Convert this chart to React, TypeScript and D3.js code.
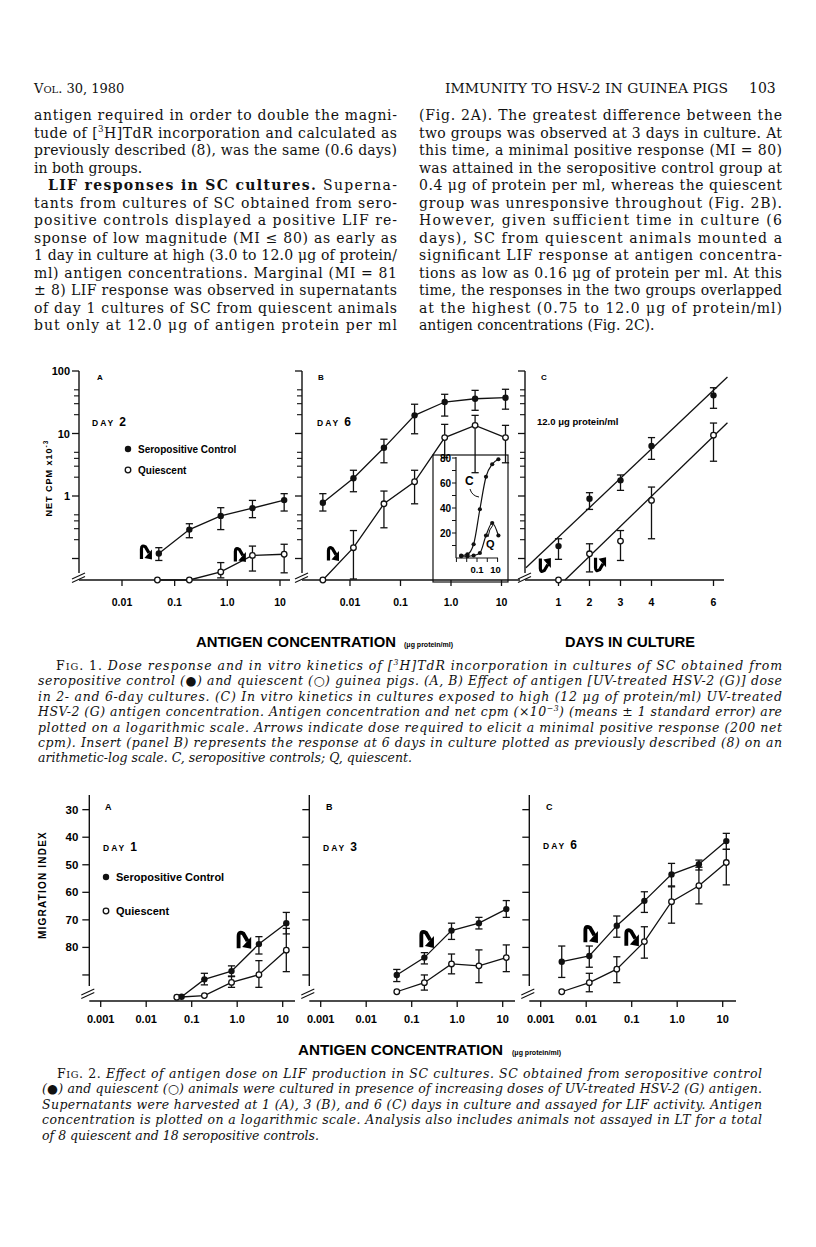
import React from "react";
import * as d3 from "d3";

const SERIF = "'DejaVu Serif', 'Liberation Serif', serif";
const SANS = "'Liberation Sans', Arial, sans-serif";

// ---------------- DATA ----------------
// antigen concentrations (µg protein/ml), 4-fold dilutions of 12.0
const conc7 = [0.0029, 0.0117, 0.047, 0.19, 0.75, 3, 12];
const conc5 = [0.047, 0.19, 0.75, 3, 12];

// Fig 1A (day 2), net cpm x10^-3
const f1aSeroX = [0.05, 0.19, 0.75, 3, 12];
const f1aSero = [0.12, 0.29, 0.48, 0.64, 0.86];
const f1aSeroLo = [0.093, 0.215, 0.29, 0.45, 0.575];
const f1aSeroHi = [0.149, 0.36, 0.65, 0.85, 1.09];
const f1aQui = [0.045, 0.045, 0.061, 0.112, 0.117];
const f1aQuiLo = [NaN, NaN, 0.049, 0.063, 0.059];
const f1aQuiHi = [NaN, NaN, 0.086, 0.158, 0.169];

// Fig 1B (day 6)
const f1bSero = [0.78, 1.92, 5.9, 19.5, 31.9, 36, 37.4];
const f1bSeroLo = [0.575, 1.17, 3.4, 9.9, 19, 23.5, 24.5];
const f1bSeroHi = [1.09, 2.58, 8.1, 29.4, 42.4, 49, 51];
const f1bQui = [0.045, 0.149, 0.75, 1.69, 8.6, 13.5, 8.6];
const f1bQuiLo = [NaN, 0.047, 0.31, 0.75, 4.1, 2.36, 3.4];
const f1bQuiHi = [NaN, 0.28, 1.2, 2.58, 14, 19.5, 13.5];

// Fig 1B insert (arithmetic-log)
const insetC = [2, 3, 11, 39, 65, 75, 79];
const insetQ = [1.5, 1.5, 2, 4, 18, 28, 18];

// Fig 1C (kinetics at 12 µg/ml)
const days = [1, 2, 3, 4, 6];
const f1cSero = [0.158, 0.905, 1.78, 6.3, 40.8];
const f1cSeroLo = [0.097, 0.61, 1.23, 3.86, 25.3];
const f1cSeroHi = [0.207, 1.13, 2.17, 8.6, 54];
const f1cQui = [0.036, 0.119, 0.19, 0.85, 9.4];
const f1cQuiLo = [NaN, 0.061, 0.093, 0.207, 3.6];
const f1cQuiHi = [NaN, 0.172, 0.28, 1.39, 14.7];
const f1cSeroFitDays = [-0.05, 6.45];
const f1cSeroFit = [0.071, 80];
const f1cQuiFitDays = [1.21, 6.45];
const f1cQuiFit = [0.036, 14.9];

// Fig 2 (migration index)
const f2aSeroX = [0.06, 0.19, 0.75, 3, 12];
const f2aSero = [97.9, 91.6, 88.6, 78.8, 71.2];
const f2aSeroLo = [NaN, 89.4, 86.7, 76.1, 67.3];
const f2aSeroHi = [NaN, 93.6, 90.4, 82.4, 75.1];
const f2aQui = [98.1, 97.5, 92.7, 89.9, 81.0];
const f2aQuiLo = [NaN, NaN, 90.6, 84.8, 73.1];
const f2aQuiHi = [NaN, NaN, 94.5, 94.5, 88.8];

const f2bSero = [90.0, 83.7, 73.9, 71.2, 66.1];
const f2bSeroLo = [88.0, 81.9, 71.2, 69.1, 63.0];
const f2bSeroHi = [92.4, 86.0, 77.1, 73.3, 69.1];
const f2bQui = [96.1, 92.8, 86.0, 86.7, 83.7];
const f2bQuiLo = [NaN, 90.0, 82.4, 80.9, 79.1];
const f2bQuiHi = [NaN, 95.5, 89.6, 92.8, 88.8];

const f2cSero = [85.2, 83.1, 72.1, 63.1, 53.5, 49.8, 41.4];
const f2cSeroLo = [79.5, 79.5, 68.6, 59.8, 49.5, 48.3, 38.6];
const f2cSeroHi = [90.9, 87.2, 76.3, 67.3, 57.7, 51.9, 44.4];
const f2cQui = [96.1, 92.8, 87.9, 77.9, 63.4, 57.6, 49.2];
const f2cQuiLo = [NaN, 89.4, 83.4, 72.5, 58.0, 50.9, 44.4];
const f2cQuiHi = [NaN, 96.1, 92.8, 83.9, 71.2, 64.2, 57.3];

// arrows (minimal positive response)
const f1aArrows = [[0.0285, 0.13], [1.73, 0.118]];
const f1bArrows = [[0.0046, 0.122]];
const f1cArrows = [[0.56, 0.076], [2.34, 0.078]];
const f2aArrows = [[1.41, 77]];
const f2bArrows = [[0.214, 76.7]];
const f2cArrows = [[0.0126, 74.9], [0.1, 76.1]];

// ticks
const f1XTicks = [0.01, 0.1, 1, 10];
const f1XLabels = ["0.01", "0.1", "1.0", "10"];
const f1YMajor = [0.1, 1, 10, 100];
const f1YMinor = [0.2, 0.3, 0.4, 0.5, 2, 3, 4, 5, 20, 30, 40, 50];
const f1YLabelVals = [1, 10, 100];
const f1YLabels = ["1", "10", "100"];
const dayTicks = [1, 2, 3, 4, 6];
const f2XTicks = [0.001, 0.01, 0.1, 1, 10];
const f2XLabels = ["0.001", "0.01", "0.1", "1.0", "10"];
const f2YTicks = [30, 40, 50, 60, 70, 80, 90];
const f2YLabels = ["30", "40", "50", "60", "70", "80"];
const insetYTicks = [10, 20, 30, 40, 50, 60, 70, 80];
const insetYLabels = [20, 40, 60, 80];
const insetXTicks = [0.001, 0.01, 0.1, 1, 10];

// ---------------- TEXT ----------------
const leftCol = [
  "antigen required in order to double the magni-",
  "tude of [|3|H]TdR incorporation and calculated as",
  "previously described (8), was the same (0.6 days)",
  "#in both groups.",
  "$",
  "tants from cultures of SC obtained from sero-",
  "positive controls displayed a positive LIF re-",
  "sponse of low magnitude (MI \u2264 80) as early as",
  "1 day in culture at high (3.0 to 12.0 \u03bcg of protein/",
  "ml) antigen concentrations. Marginal (MI = 81",
  "\u00b1 8) LIF response was observed in supernatants",
  "of day 1 cultures of SC from quiescent animals",
  "but only at 12.0 \u03bcg of antigen protein per ml",
];
const rightCol = [
  "(Fig. 2A). The greatest difference between the",
  "two groups was observed at 3 days in culture. At",
  "this time, a minimal positive response (MI = 80)",
  "was attained in the seropositive control group at",
  "0.4 \u03bcg of protein per ml, whereas the quiescent",
  "group was unresponsive throughout (Fig. 2B).",
  "However, given sufficient time in culture (6",
  "days), SC from quiescent animals mounted a",
  "significant LIF response at antigen concentra-",
  "tions as low as 0.16 \u03bcg of protein per ml. At this",
  "time, the responses in the two groups overlapped",
  "at the highest (0.75 to 12.0 \u03bcg of protein/ml)",
  "#antigen concentrations (Fig. 2C).",
];
const cap1 = [
  "Dose response and in vitro kinetics of [|3|H]TdR incorporation in cultures of SC obtained from",
  "seropositive control (\u25cf) and quiescent (\u25cb) guinea pigs. (A, B) Effect of antigen [UV-treated HSV-2 (G)] dose",
  "in 2- and 6-day cultures. (C) In vitro kinetics in cultures exposed to high (12 \u03bcg of protein/ml) UV-treated",
  "HSV-2 (G) antigen concentration. Antigen concentration and net cpm (\u00d710|\u22123|) (means \u00b1 1 standard error) are",
  "plotted on a logarithmic scale. Arrows indicate dose required to elicit a minimal positive response (200 net",
  "cpm). Insert (panel B) represents the response at 6 days in culture plotted as previously described (8) on an",
  "#arithmetic-log scale. C, seropositive controls; Q, quiescent.",
];
const cap2 = [
  "Effect of antigen dose on LIF production in SC cultures. SC obtained from seropositive control",
  "(\u25cf) and quiescent (\u25cb) animals were cultured in presence of increasing doses of UV-treated HSV-2 (G) antigen.",
  "Supernatants were harvested at 1 (A), 3 (B), and 6 (C) days in culture and assayed for LIF activity. Antigen",
  "concentration is plotted on a logarithmic scale. Analysis also includes animals not assayed in LT for a total",
  "#of 8 quiescent and 18 seropositive controls.",
];

// render text with |sup| segments
function withSup(s: string, fs: number) {
  const parts = s.split("|");
  return parts.map((p, i) =>
    i % 2 === 1 ? (
      <tspan key={i} fontSize={fs * 0.62} dy={-fs * 0.38}>{p}</tspan>
    ) : (
      <tspan key={i} dy={i > 0 ? fs * 0.38 : 0}>{p}</tspan>
    )
  );
}

function BodyLine({ x, y, w, s, fs }: any) {
  let justify = true;
  let str = s;
  if (str.startsWith("#")) { justify = false; str = str.slice(1); }
  return (
    <text x={x} y={y} fontFamily={SERIF} fontSize={fs} fill="#111"
      textLength={justify ? w : undefined} lengthAdjust="spacing">
      {withSup(str, fs)}
    </text>
  );
}

function CapLine({ x, y, w, s, fs, first, num }: any) {
  let justify = true;
  let str = s;
  if (str.startsWith("#")) { justify = false; str = str.slice(1); }
  return (
    <text x={x} y={y} fontFamily={SERIF} fontSize={fs} fill="#111"
      textLength={justify ? w : undefined} lengthAdjust="spacing">
      {first ? (
        <>
          <tspan>F</tspan>
          <tspan fontSize={fs * 0.78}>IG</tspan>
          <tspan>{`. ${num}. `}</tspan>
        </>
      ) : null}
      <tspan fontStyle="italic">{withSup(str, fs)}</tspan>
    </text>
  );
}

// ---------------- GRAPHIC HELPERS ----------------
function Series({ xs, ys, xv, yv, lo, hi, filled, noLine = false, r = 3.2, cap = 3.6 }: any) {
  const pts = xv.map((x: number, i: number) => [xs(x), ys(yv[i])] as [number, number]);
  const line = d3.line();
  return (
    <g>
      {noLine ? null : <path d={line(pts) || ""} fill="none" stroke="#111" strokeWidth={1.3} />}
      {lo.map((l: number, i: number) =>
        isFinite(l) ? (
          <g key={i} stroke="#111" strokeWidth={1.3}>
            <line x1={pts[i][0]} x2={pts[i][0]} y1={ys(l)} y2={ys(hi[i])} />
            <line x1={pts[i][0] - cap} x2={pts[i][0] + cap} y1={ys(l)} y2={ys(l)} />
            <line x1={pts[i][0] - cap} x2={pts[i][0] + cap} y1={ys(hi[i])} y2={ys(hi[i])} />
          </g>
        ) : null
      )}
      {pts.map((p: [number, number], i: number) =>
        filled ? (
          <circle key={i} cx={p[0]} cy={p[1]} r={r} fill="#111" />
        ) : (
          <circle key={i} cx={p[0]} cy={p[1]} r={r - 0.4} fill="#fff" stroke="#111" strokeWidth={1.3} />
        )
      )}
    </g>
  );
}

function Hook({ x, y, flip = false, s = 1 }: any) {
  return (
    <g transform={`translate(${x},${y}) scale(${s},${flip ? -s : s})`}>
      <path d="M-4.5,7.5 L-4.5,-2.5 Q-4.5,-7 -0.5,-4.5 L3,1.5" fill="none" stroke="#000" strokeWidth={3.2} />
      <path d="M6,8 L6,-2 L-1.5,6.5 Z" fill="#000" />
    </g>
  );
}

function Break({ x, y }: any) {
  return (
    <g stroke="#111" strokeWidth={1.1}>
      <line x1={x - 8} y1={y + 2} x2={x + 5} y2={y - 4} />
      <line x1={x - 8} y1={y + 5.5} x2={x + 5} y2={y - 0.5} />
    </g>
  );
}

function LogXAxis({ xs, ticks, labels, x0, x1, y, fs, ly }: any) {
  return (
    <g>
      <line x1={x0} x2={x1} y1={y} y2={y} stroke="#111" strokeWidth={1.4} />
      {ticks.map((t: number, i: number) => (
        <g key={i}>
          <line x1={xs(t)} x2={xs(t)} y1={y} y2={y + 6} stroke="#111" strokeWidth={1.3} />
          <text x={xs(t)} y={y + ly} textAnchor="middle" fontFamily={SANS} fontWeight="bold" fontSize={fs}>{labels[i]}</text>
        </g>
      ))}
    </g>
  );
}

// ---------------- LAYOUT ----------------
const F1_TOP = 371;
const F1_BOT = 580;
const f1Y = () =>
  d3.scaleLog().domain([Math.pow(10, 2 - (F1_BOT - F1_TOP) / 62.5), 100]).range([F1_BOT, F1_TOP]).clamp(true);

const F2_TOP = 795;
const F2_BOT = 1001;
const f2Y = d3.scaleLinear().domain([25, 100]).range([795.9, 1002.5]);

function F1YAxis({ x, labels }: any) {
  const ys = f1Y();
  return (
    <g>
      <line x1={x} x2={x} y1={F1_TOP} y2={F1_BOT - 7} stroke="#111" strokeWidth={1.4} />
      {f1YMajor.map((v, i) => (
        <line key={"M" + i} x1={x - 7} x2={x} y1={ys(v)} y2={ys(v)} stroke="#111" strokeWidth={1.3} />
      ))}
      {f1YMinor.map((v, i) => (
        <line key={"m" + i} x1={x - 5} x2={x} y1={ys(v)} y2={ys(v)} stroke="#111" strokeWidth={1.1} />
      ))}
      {labels
        ? f1YLabelVals.map((v, i) => (
            <text key={"l" + i} x={x - 9} y={ys(v) + 4} textAnchor="end" fontFamily={SANS} fontWeight="bold" fontSize={11}>{f1YLabels[i]}</text>
          ))
        : null}
      <Break x={x + 1} y={F1_BOT - 3} />
    </g>
  );
}

function F2YAxis({ x, labels }: any) {
  return (
    <g>
      <line x1={x} x2={x} y1={F2_TOP} y2={F2_BOT - 15} stroke="#111" strokeWidth={1.4} />
      {f2YTicks.map((v, i) => (
        <line key={i} x1={x - 7} x2={x} y1={f2Y(v)} y2={f2Y(v)} stroke="#111" strokeWidth={1.3} />
      ))}
      {labels
        ? f2YLabels.map((l, i) => (
            <text key={"l" + i} x={x - 11} y={f2Y(+l) + 4} textAnchor="end" fontFamily={SANS} fontWeight="bold" fontSize={11.5}>{l}</text>
          ))
        : null}
      <Break x={x} y={F2_BOT - 8} />
    </g>
  );
}

function Label({ x, y, t, fs = 8 }: any) {
  return <text x={x} y={y} fontFamily={SANS} fontWeight="bold" fontSize={fs}>{t}</text>;
}

function Day({ x, y, n }: any) {
  return (
    <text x={x} y={y} fontFamily={SANS} fontWeight="bold">
      <tspan fontSize={8.5} letterSpacing={2}>DAY</tspan>
      <tspan fontSize={12} dx={4}>{n}</tspan>
    </text>
  );
}

function Legend({ x, y1, y2, fs }: any) {
  return (
    <g>
      <circle cx={x} cy={y1} r={3.2} fill="#111" />
      <text x={x + 10} y={y1 + 4} fontFamily={SANS} fontWeight="bold" fontSize={fs}>Seropositive Control</text>
      <circle cx={x} cy={y2} r={2.8} fill="#fff" stroke="#111" strokeWidth={1.3} />
      <text x={x + 10} y={y2 + 4} fontFamily={SANS} fontWeight="bold" fontSize={fs}>Quiescent</text>
    </g>
  );
}

export default function App() {
  const ys1 = f1Y();
  const xA1 = d3.scaleLog().domain([0.01, 10]).range([122, 280]);
  const xB1 = d3.scaleLog().domain([0.01, 10]).range([350, 501.5]);
  const xC1 = d3.scaleLinear().domain([0, 6]).range([527.5, 713.5]);

  const xA2 = d3.scaleLog().domain([0.001, 10]).range([100.7, 282.7]);
  const xB2 = d3.scaleLog().domain([0.001, 10]).range([320.7, 502.7]);
  const xC2 = d3.scaleLog().domain([0.001, 10]).range([540.7, 722.7]);

  // insert scales
  const ixs = d3.scaleLog().domain([Math.pow(10, -3.04), Math.pow(10, 1.04)]).range([456, 498]);
  const iys = d3.scaleLinear().domain([0, 80]).range([558, 458]);
  const smooth = d3.line().curve(d3.curveMonotoneX);

  const BODY0 = 120;
  const LSP = 17.5;
  const CSP = 15.4;
  const BFS = 14;
  const CFS = 12.5;

  return (
    <svg width={816} height={1247} style={{ position: "absolute", left: 0, top: 0, background: "#fff" }}>
      <rect x={0} y={0} width={816} height={1247} fill="#fff" />
      {/* header */}
      <text x={34} y={93} fontFamily={SERIF} fontSize={13} fill="#111">
        <tspan>V</tspan><tspan fontSize={10}>OL</tspan><tspan>. 30, 1980</tspan>
      </text>
      <text x={445} y={93} fontFamily={SERIF} fontSize={13} fill="#111" textLength={283} lengthAdjust="spacingAndGlyphs">IMMUNITY TO HSV-2 IN GUINEA PIGS</text>
      <text x={749} y={93} fontFamily={SERIF} fontSize={14} fill="#111">103</text>

      {/* body text */}
      {leftCol.map((s, i) =>
        s === "$" ? (
          <text key={i} x={48} y={BODY0 + i * LSP} fontFamily={SERIF} fontSize={BFS} fill="#111" textLength={349} lengthAdjust="spacing">
            <tspan fontWeight="bold">LIF responses in SC cultures.</tspan>
            <tspan> Superna-</tspan>
          </text>
        ) : (
          <BodyLine key={i} x={34} y={BODY0 + i * LSP} w={363} s={s} fs={BFS} />
        )
      )}
      {rightCol.map((s, i) => (
        <BodyLine key={i} x={419} y={BODY0 + i * LSP} w={363} s={s} fs={BFS} />
      ))}

      {/* ============ FIGURE 1 ============ */}
      {/* Panel A */}
      <F1YAxis x={79} labels />
      <LogXAxis xs={xA1} ticks={f1XTicks} labels={f1XLabels} x0={79} x1={290} y={F1_BOT} fs={10.5} ly={26} />
      <Series xs={xA1} ys={ys1} xv={conc5} yv={f1aQui} lo={f1aQuiLo} hi={f1aQuiHi} filled={false} />
      <Series xs={xA1} ys={ys1} xv={f1aSeroX} yv={f1aSero} lo={f1aSeroLo} hi={f1aSeroHi} filled />
      {f1aArrows.map((a, i) => <Hook key={i} x={xA1(a[0])} y={ys1(a[1])} />)}
      <Label x={97} y={380} t="A" fs={8} />
      <Day x={92} y={426} n="2" />
      <Legend x={128} y1={449} y2={470} fs={10} />
      <text transform="translate(52,478) rotate(-90)" textAnchor="middle" fontFamily={SANS} fontWeight="bold" fontSize={9} letterSpacing={1}>
        NET CPM x10<tspan fontSize={6.5} dy={-4}>-3</tspan>
      </text>

      {/* Panel B */}
      <F1YAxis x={302} />
      <LogXAxis xs={xB1} ticks={f1XTicks} labels={f1XLabels} x0={302} x1={520} y={F1_BOT} fs={10.5} ly={26} />
      <Series xs={xB1} ys={ys1} xv={conc7} yv={f1bQui} lo={f1bQuiLo} hi={f1bQuiHi} filled={false} />
      <Series xs={xB1} ys={ys1} xv={conc7} yv={f1bSero} lo={f1bSeroLo} hi={f1bSeroHi} filled />
      {f1bArrows.map((a, i) => <Hook key={i} x={xB1(a[0])} y={ys1(a[1])} />)}
      <Label x={318} y={380} t="B" fs={8} />
      <Day x={317} y={426} n="6" />

      {/* insert */}
      <rect x={433} y={455} width={75} height={127} fill="none" stroke="#111" strokeWidth={1.2} />
      <line x1={456} x2={456} y1={457} y2={558} stroke="#111" strokeWidth={1.2} />
      <line x1={456} x2={498} y1={558} y2={558} stroke="#111" strokeWidth={1.2} />
      {insetYTicks.map((v, i) => (
        <line key={i} x1={452} x2={456} y1={iys(v)} y2={iys(v)} stroke="#111" strokeWidth={1} />
      ))}
      {insetYLabels.map((v, i) => (
        <text key={i} x={451} y={iys(v) + 4} textAnchor="end" fontFamily={SANS} fontWeight="bold" fontSize={10}>{v}</text>
      ))}
      {insetXTicks.map((v, i) => (
        <line key={i} x1={ixs(v)} x2={ixs(v)} y1={558} y2={562} stroke="#111" strokeWidth={1} />
      ))}
      <text x={ixs(0.1)} y={573} textAnchor="middle" fontFamily={SANS} fontWeight="bold" fontSize={9.5}>0.1</text>
      <text x={ixs(10) - 2} y={573} textAnchor="middle" fontFamily={SANS} fontWeight="bold" fontSize={9.5}>10</text>
      <path d={smooth(conc7.map((c, i) => [ixs(c), iys(insetC[i])] as [number, number])) || ""} fill="none" stroke="#111" strokeWidth={1.2} />
      <path d={smooth(conc7.map((c, i) => [ixs(c), iys(insetQ[i])] as [number, number])) || ""} fill="none" stroke="#111" strokeWidth={1.2} />
      {conc7.map((c, i) => <circle key={"c" + i} cx={ixs(c)} cy={iys(insetC[i])} r={2.1} fill="#111" />)}
      {conc7.map((c, i) => <circle key={"q" + i} cx={ixs(c)} cy={iys(insetQ[i])} r={2.1} fill="#111" />)}
      <text x={465} y={485} fontFamily={SANS} fontWeight="bold" fontSize={12}>C</text>
      <path d="M470,489 Q472,496 479,497" fill="none" stroke="#111" strokeWidth={1} />
      <text x={486} y={548} fontFamily={SANS} fontWeight="bold" fontSize={11}>Q</text>
      <path d="M488,537 Q489,529 493,525" fill="none" stroke="#111" strokeWidth={1} />

      {/* Panel C */}
      <F1YAxis x={525} />
      <LogXAxis xs={xC1} ticks={dayTicks} labels={dayTicks.map(String)} x0={525} x1={724} y={F1_BOT} fs={10.5} ly={26} />
      <path d={d3.line()(f1cSeroFitDays.map((d, i) => [xC1(d), ys1(f1cSeroFit[i])] as [number, number])) || ""} stroke="#111" strokeWidth={1.3} fill="none" />
      <path d={d3.line()(f1cQuiFitDays.map((d, i) => [xC1(d), ys1(f1cQuiFit[i])] as [number, number])) || ""} stroke="#111" strokeWidth={1.3} fill="none" />
      <Series xs={xC1} ys={ys1} xv={days} yv={f1cQui} lo={f1cQuiLo} hi={f1cQuiHi} filled={false} noLine />
      <Series xs={xC1} ys={ys1} xv={days} yv={f1cSero} lo={f1cSeroLo} hi={f1cSeroHi} filled noLine />
      {f1cArrows.map((a, i) => <Hook key={i} x={xC1(a[0])} y={ys1(a[1])} flip />)}
      <Label x={541} y={380} t="C" fs={8} />
      <text x={537} y={425} fontFamily={SANS} fontWeight="bold" fontSize={9.5}>12.0 {"\u03bc"}g protein/ml</text>

      {/* axis titles */}
      <text x={196} y={647} fontFamily={SANS} fontWeight="bold" fontSize={15} textLength={200} lengthAdjust="spacingAndGlyphs">ANTIGEN CONCENTRATION</text>
      <text x={404} y={647} fontFamily={SANS} fontWeight="bold" fontSize={7}>({"\u03bc"}g protein/ml)</text>
      <text x={565} y={647} fontFamily={SANS} fontWeight="bold" fontSize={15} textLength={130} lengthAdjust="spacingAndGlyphs">DAYS IN CULTURE</text>

      {/* caption 1 */}
      {cap1.map((s, i) => (
        <CapLine key={i} x={i === 0 ? 56 : 38} y={670 + i * CSP} w={i === 0 ? 726 : 744} s={s} fs={CFS} first={i === 0} num={1} />
      ))}

      {/* ============ FIGURE 2 ============ */}
      <text transform="translate(46,885) rotate(-90)" textAnchor="middle" fontFamily={SANS} fontWeight="bold" fontSize={10} letterSpacing={1.2}>MIGRATION INDEX</text>
      {/* Panel A */}
      <F2YAxis x={89.3} labels />
      <LogXAxis xs={xA2} ticks={f2XTicks} labels={f2XLabels} x0={89.3} x1={295} y={F2_BOT} fs={11} ly={22} />
      <Series xs={xA2} ys={f2Y} xv={conc5} yv={f2aQui} lo={f2aQuiLo} hi={f2aQuiHi} filled={false} />
      <Series xs={xA2} ys={f2Y} xv={f2aSeroX} yv={f2aSero} lo={f2aSeroLo} hi={f2aSeroHi} filled />
      {f2aArrows.map((a, i) => <Hook key={i} x={xA2(a[0])} y={f2Y(a[1])} s={1.2} />)}
      <Label x={105} y={810} t="A" fs={9} />
      <Day x={103} y={851} n="1" />
      <Legend x={106} y1={877} y2={911} fs={11} />

      {/* Panel B */}
      <F2YAxis x={309.3} />
      <LogXAxis xs={xB2} ticks={f2XTicks} labels={f2XLabels} x0={309.3} x1={515} y={F2_BOT} fs={11} ly={22} />
      <Series xs={xB2} ys={f2Y} xv={conc5} yv={f2bQui} lo={f2bQuiLo} hi={f2bQuiHi} filled={false} />
      <Series xs={xB2} ys={f2Y} xv={conc5} yv={f2bSero} lo={f2bSeroLo} hi={f2bSeroHi} filled />
      {f2bArrows.map((a, i) => <Hook key={i} x={xB2(a[0])} y={f2Y(a[1])} s={1.2} />)}
      <Label x={326} y={810} t="B" fs={9} />
      <Day x={323} y={851} n="3" />

      {/* Panel C */}
      <F2YAxis x={529.3} />
      <LogXAxis xs={xC2} ticks={f2XTicks} labels={f2XLabels} x0={529.3} x1={736} y={F2_BOT} fs={11} ly={22} />
      <Series xs={xC2} ys={f2Y} xv={conc7} yv={f2cQui} lo={f2cQuiLo} hi={f2cQuiHi} filled={false} />
      <Series xs={xC2} ys={f2Y} xv={conc7} yv={f2cSero} lo={f2cSeroLo} hi={f2cSeroHi} filled />
      {f2cArrows.map((a, i) => <Hook key={i} x={xC2(a[0])} y={f2Y(a[1])} s={1.2} />)}
      <Label x={546} y={810} t="C" fs={9} />
      <Day x={543} y={849} n="6" />

      <text x={298} y={1055} fontFamily={SANS} fontWeight="bold" fontSize={15} textLength={205} lengthAdjust="spacingAndGlyphs">ANTIGEN CONCENTRATION</text>
      <text x={512} y={1055} fontFamily={SANS} fontWeight="bold" fontSize={7}>({"\u03bc"}g protein/ml)</text>

      {/* caption 2 */}
      {cap2.map((s, i) => (
        <CapLine key={i} x={i === 0 ? 57 : 42} y={1078 + i * CSP} w={i === 0 ? 705 : 720} s={s} fs={CFS} first={i === 0} num={2} />
      ))}
    </svg>
  );
}
